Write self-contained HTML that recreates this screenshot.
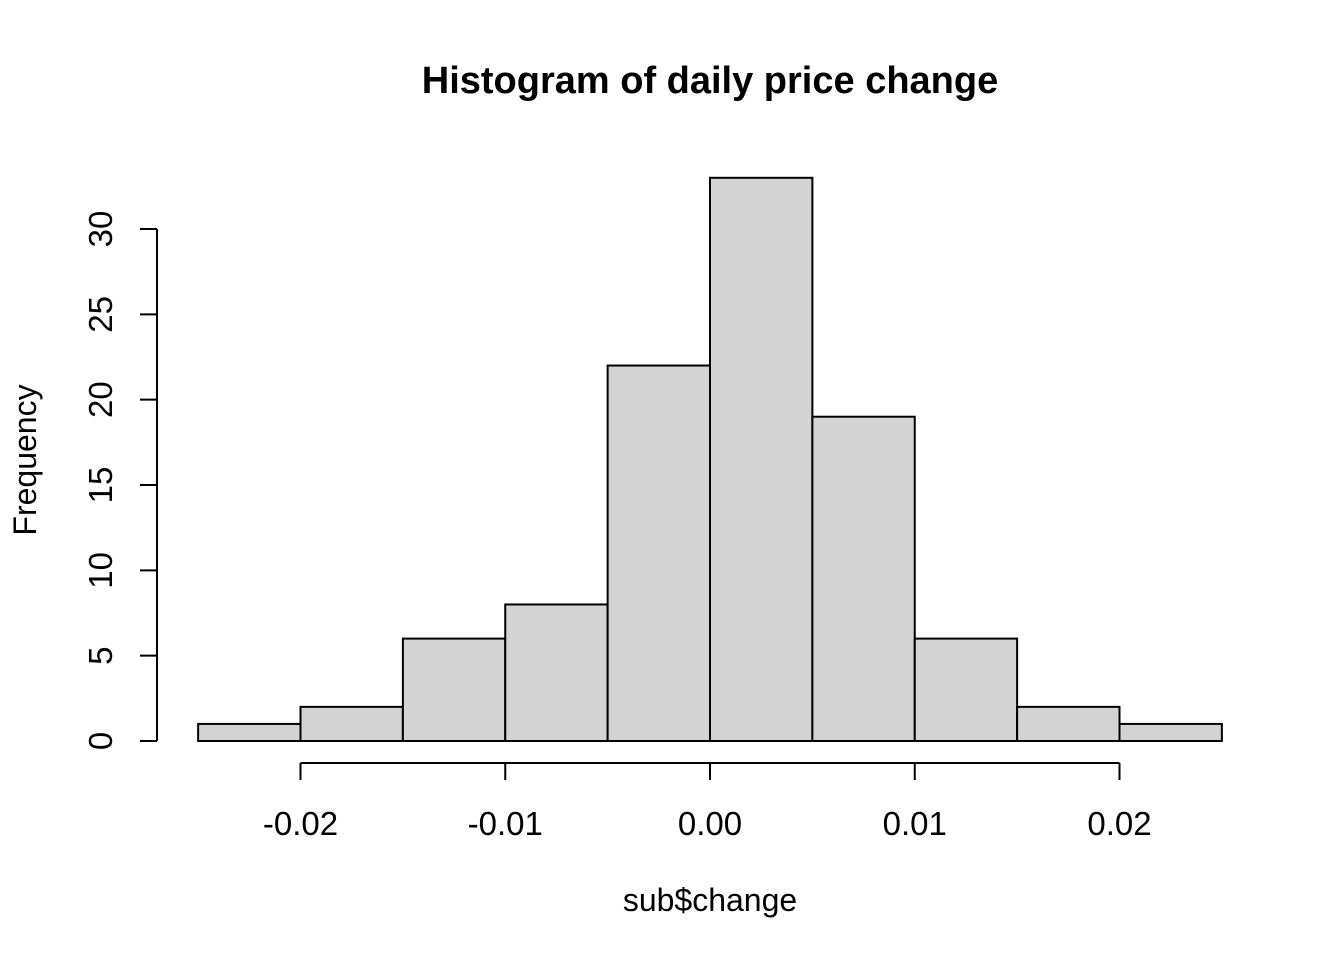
<!DOCTYPE html>
<html><head><meta charset="utf-8"><style>
html,body{margin:0;padding:0;background:#fff;}
svg{display:block;font-family:"Liberation Sans",Arial,sans-serif;}
</style></head><body>
<svg id="chart" width="1344" height="960" viewBox="0 0 1344 960">
<text x="710" y="93" text-anchor="middle" font-size="38" font-weight="bold">Histogram of daily price change</text>
<text x="710" y="911" text-anchor="middle" font-size="32">sub$change</text>
<text transform="translate(36,460) rotate(-90)" text-anchor="middle" font-size="32">Frequency</text>
<g id="bars"></g>
<g id="xaxis"></g>
<g id="yaxis"></g>
</svg>
<script>
const binEdges = [-0.025,-0.02,-0.015,-0.01,-0.005,0,0.005,0.01,0.015,0.02,0.025];
const counts = [1,2,6,8,22,33,19,6,2,1];
const xTicks = [-0.02,-0.01,0,0.01,0.02];
const xTickLabels = ["-0.02","-0.01","0.00","0.01","0.02"];
const yTicks = [0,5,10,15,20,25,30];

const NS="http://www.w3.org/2000/svg";
const xs=v=>710+v*20475;
const ys=v=>741-v*(512/30);
function mk(tag,attrs,parent){const e=document.createElementNS(NS,tag);for(const k in attrs)e.setAttribute(k,attrs[k]);parent.appendChild(e);return e;}
const bars=document.getElementById('bars');
counts.forEach((c,i)=>{
  const x0=xs(binEdges[i]),x1=xs(binEdges[i+1]);
  const r=mk('rect',{x:x0,y:ys(c),width:x1-x0,height:ys(0)-ys(c),fill:'#d3d3d3',stroke:'#000','stroke-width':2},bars);
  
  
});
const xa=document.getElementById('xaxis');
mk('line',{x1:xs(xTicks[0]),x2:xs(xTicks[xTicks.length-1]),y1:763,y2:763,stroke:'#000','stroke-width':2},xa);
xTicks.forEach((t,i)=>{
  mk('line',{x1:xs(t),x2:xs(t),y1:763,y2:780,stroke:'#000','stroke-width':2},xa);
  const tx=mk('text',{x:xs(t),y:835,'text-anchor':'middle','font-size':33},xa);
  tx.textContent=xTickLabels[i];
  
  
});
const ya=document.getElementById('yaxis');
mk('line',{x1:157,x2:157,y1:ys(yTicks[0]),y2:ys(yTicks[yTicks.length-1]),stroke:'#000','stroke-width':2},ya);
yTicks.forEach(t=>{
  mk('line',{x1:140,x2:157,y1:ys(t),y2:ys(t),stroke:'#000','stroke-width':2},ya);
  const tx=mk('text',{transform:`translate(112,${ys(t)}) rotate(-90)`,'text-anchor':'middle','font-size':33},ya);
  tx.textContent=String(t);
  
  
});
</script>
</body></html>
